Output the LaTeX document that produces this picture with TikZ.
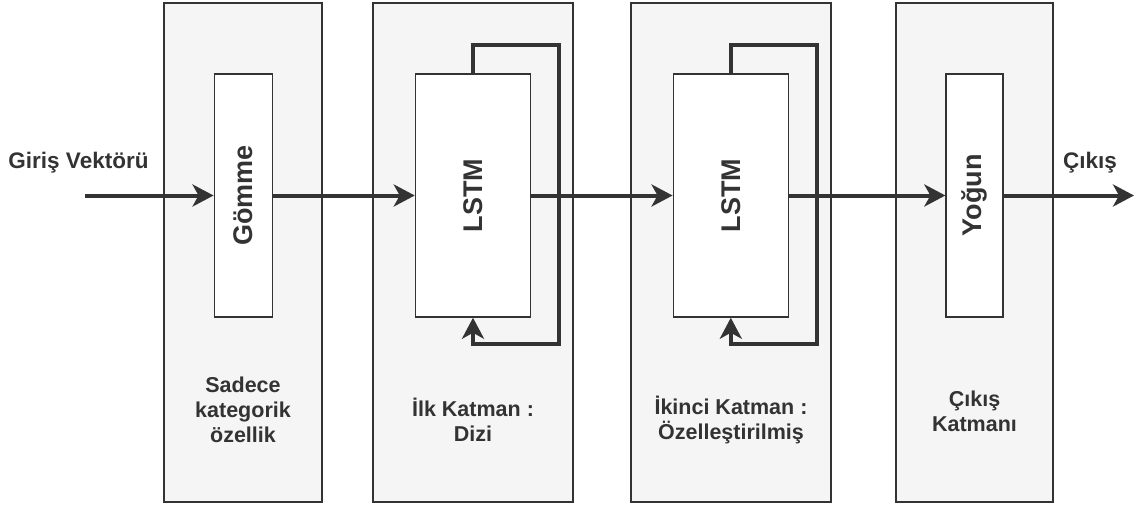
\documentclass[tikz,border=0pt]{standalone}
\usepackage{fontspec}
\setmainfont{Liberation Sans}
\usetikzlibrary{arrows.meta}
\definecolor{ink}{HTML}{333333}
\definecolor{panelfill}{HTML}{F5F5F5}
\tikzset{
  panel/.style={draw=ink, fill=panelfill, line width=1.5pt},
  block/.style={draw=ink, fill=white, line width=1.5pt, inner sep=0pt},
  blocklabel/.style={text=ink, font=\bfseries\fontsize{27}{30}\selectfont, rotate=90},
  caption/.style={text=ink, font=\bfseries\fontsize{21.5}{25}\selectfont, align=center},
  endlabel/.style={text=ink, font=\bfseries\fontsize{22.5}{26}\selectfont},
  flow/.style={draw=ink, line width=4pt, -{Stealth[length=21pt, width=22pt, inset=6pt]}},
}
\begin{document}
\begin{tikzpicture}[x=1pt, y=-1pt]
\useasboundingbox (0,0) rectangle (1137,506);

% layer panels
\draw[panel] (164,3) rectangle (322,502);
\draw[panel] (373,3) rectangle (573,502);
\draw[panel] (631,3) rectangle (831,502);
\draw[panel] (896,3) rectangle (1053,502);

% processing blocks
\node[block, minimum width=58pt, minimum height=243pt] (emb) at (243.3,195.5) {};
\node[block, minimum width=115pt, minimum height=243pt] (lstma) at (473,195.5) {};
\node[block, minimum width=115pt, minimum height=243pt] (lstmb) at (730.8,195.5) {};
\node[block, minimum width=57pt, minimum height=243pt] (dense) at (974.6,195.5) {};

\node[blocklabel] (embt) at (emb.center) {Gömme};
\node[blocklabel] (lstmat) at (lstma.center) {LSTM};
\node[blocklabel] (lstmbt) at (lstmb.center) {LSTM};
\node[blocklabel] (denset) at (dense.center) {Yoğun};

% input / output ends
\coordinate (in) at (85,195.5);
\coordinate (out) at (1134,195.5);
\node[endlabel, anchor=base] (intext) at (78.5,168) {Giriş Vektörü};
\node[endlabel, anchor=base] (outtext) at (1090,168) {Çıkış};

% forward flow
\draw[flow] (in) -- (emb.west);
\draw[flow] (emb.east) -- (lstma.west);
\draw[flow] (lstma.east) -- (lstmb.west);
\draw[flow] (lstmb.east) -- (dense.west);
\draw[flow] (dense.east) -- (out);

% recurrent loops
\coordinate (la1) at (559,45);
\coordinate (la2) at (559,344);
\coordinate (lb1) at (816.7,45);
\coordinate (lb2) at (816.7,344);
\draw[flow] (lstma.north) |- (la1) -- (la2) -| (lstma.south);
\draw[flow] (lstmb.north) |- (lb1) -- (lb2) -| (lstmb.south);

% layer captions
\node[caption] (cap1) at (243,410) {Sadece\\kategorik\\özellik};
\node[caption] (cap2) at (473,420) {İlk Katman :\\Dizi};
\node[caption] (cap3) at (731,420) {İkinci Katman :\\Özelleştirilmiş};
\node[caption] (cap4) at (974.5,411) {Çıkış\\Katmanı};
\end{tikzpicture}
\end{document}
